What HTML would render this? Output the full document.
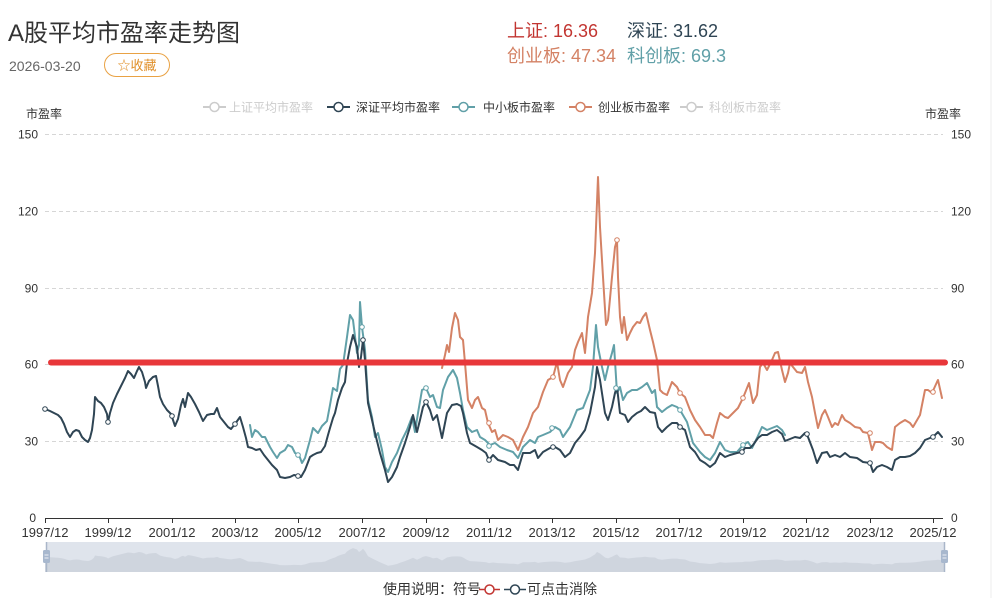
<!DOCTYPE html>
<html>
<head>
<meta charset="utf-8">
<style>
html,body{margin:0;padding:0;background:#fff;}
body{width:998px;height:598px;overflow:hidden;position:relative;font-family:"Liberation Sans","Noto Sans CJK SC",sans-serif;}
svg{position:absolute;left:0;top:0;}
text{font-family:"Liberation Sans","Noto Sans CJK SC",sans-serif;}
</style>
</head>
<body>
<svg width="998" height="598" viewBox="0 0 998 598" xmlns="http://www.w3.org/2000/svg">
  <!-- right faint border -->
  <line x1="991" y1="0" x2="991" y2="598" stroke="#ececec" stroke-width="1"/>

  <!-- Header -->
  <text x="8" y="41" font-size="24" fill="#333">A股平均市盈率走势图</text>
  <text x="9" y="71" font-size="14" fill="#666">2026-03-20</text>
  <rect x="104.5" y="53.5" width="65" height="23" rx="11.5" ry="11.5" fill="#fff" stroke="#e9a244" stroke-width="1"/>
  <text x="137" y="70" font-size="13" fill="#e0902a" text-anchor="middle">☆收藏</text>

  <text x="507" y="37" font-size="18" fill="#c23531">上证: 16.36</text>
  <text x="627" y="37" font-size="18" fill="#2f4554">深证: 31.62</text>
  <text x="507" y="62" font-size="18" fill="#d48265">创业板: 47.34</text>
  <text x="627" y="62" font-size="18" fill="#61a0a8">科创板: 69.3</text>

  <!-- Legend -->
  <g font-size="12">
    <line x1="203" y1="107" x2="226" y2="107" stroke="#ccc" stroke-width="2"/>
    <circle cx="214.5" cy="107" r="4.5" fill="#fff" stroke="#ccc" stroke-width="1.5"/>
    <text x="229" y="111.5" fill="#ccc">上证平均市盈率</text>

    <line x1="327" y1="107" x2="350" y2="107" stroke="#2f4554" stroke-width="2"/>
    <circle cx="338.5" cy="107" r="4.5" fill="#fff" stroke="#2f4554" stroke-width="1.5"/>
    <text x="356" y="111.5" fill="#333">深证平均市盈率</text>

    <line x1="452" y1="107" x2="475" y2="107" stroke="#61a0a8" stroke-width="2"/>
    <circle cx="463.5" cy="107" r="4.5" fill="#fff" stroke="#61a0a8" stroke-width="1.5"/>
    <text x="483" y="111.5" fill="#333">中小板市盈率</text>

    <line x1="569" y1="107" x2="592" y2="107" stroke="#d48265" stroke-width="2"/>
    <circle cx="580.5" cy="107" r="4.5" fill="#fff" stroke="#d48265" stroke-width="1.5"/>
    <text x="598" y="111.5" fill="#333">创业板市盈率</text>

    <line x1="680" y1="107" x2="703" y2="107" stroke="#ccc" stroke-width="2"/>
    <circle cx="691.5" cy="107" r="4.5" fill="#fff" stroke="#ccc" stroke-width="1.5"/>
    <text x="709" y="111.5" fill="#ccc">科创板市盈率</text>
  </g>

  <!-- axis names -->
  <text x="26" y="118" font-size="12" fill="#333">市盈率</text>
  <text x="925" y="118" font-size="12" fill="#333">市盈率</text>

  <!-- grid -->
  <g stroke="#d6d6d6" stroke-width="1" stroke-dasharray="4,3">
    <line x1="45" y1="134.5" x2="943" y2="134.5"/>
    <line x1="45" y1="211.5" x2="943" y2="211.5"/>
    <line x1="45" y1="288.5" x2="943" y2="288.5"/>
    <line x1="45" y1="364.5" x2="943" y2="364.5"/>
    <line x1="45" y1="441.5" x2="943" y2="441.5"/>
  </g>

  <!-- y labels -->
  <g font-size="12" fill="#333">
    <text x="38" y="138.5" text-anchor="end">150</text>
    <text x="38" y="215.5" text-anchor="end">120</text>
    <text x="38" y="292.5" text-anchor="end">90</text>
    <text x="38" y="368.5" text-anchor="end">60</text>
    <text x="38" y="445.5" text-anchor="end">30</text>
    <text x="36" y="522" text-anchor="end">0</text>
    <text x="951" y="138.5">150</text>
    <text x="951" y="215.5">120</text>
    <text x="951" y="292.5">90</text>
    <text x="951" y="368.5">60</text>
    <text x="951" y="445.5">30</text>
    <text x="951" y="522">0</text>
  </g>

  <!-- x axis -->
  <line x1="45" y1="518.5" x2="943" y2="518.5" stroke="#333" stroke-width="1"/>
  <g stroke="#333" stroke-width="1">
    <line x1="45.5" y1="518" x2="45.5" y2="523"/>
    <line x1="108.5" y1="518" x2="108.5" y2="523"/>
    <line x1="172.5" y1="518" x2="172.5" y2="523"/>
    <line x1="235.5" y1="518" x2="235.5" y2="523"/>
    <line x1="298.5" y1="518" x2="298.5" y2="523"/>
    <line x1="362.5" y1="518" x2="362.5" y2="523"/>
    <line x1="426.5" y1="518" x2="426.5" y2="523"/>
    <line x1="489.5" y1="518" x2="489.5" y2="523"/>
    <line x1="552.5" y1="518" x2="552.5" y2="523"/>
    <line x1="616.5" y1="518" x2="616.5" y2="523"/>
    <line x1="679.5" y1="518" x2="679.5" y2="523"/>
    <line x1="743.5" y1="518" x2="743.5" y2="523"/>
    <line x1="806.5" y1="518" x2="806.5" y2="523"/>
    <line x1="870.5" y1="518" x2="870.5" y2="523"/>
    <line x1="933.5" y1="518" x2="933.5" y2="523"/>
  </g>
  <g font-size="13" fill="#333" text-anchor="middle">
    <text x="45" y="537">1997/12</text>
    <text x="108" y="537">1999/12</text>
    <text x="172" y="537">2001/12</text>
    <text x="235" y="537">2003/12</text>
    <text x="298" y="537">2005/12</text>
    <text x="362" y="537">2007/12</text>
    <text x="426" y="537">2009/12</text>
    <text x="489" y="537">2011/12</text>
    <text x="552" y="537">2013/12</text>
    <text x="616" y="537">2015/12</text>
    <text x="679" y="537">2017/12</text>
    <text x="743" y="537">2019/12</text>
    <text x="806" y="537">2021/12</text>
    <text x="870" y="537">2023/12</text>
    <text x="933" y="537">2025/12</text>
  </g>

  <!-- series -->
  <g fill="none" stroke-width="2" stroke-linejoin="round" stroke-linecap="round">
    <polyline stroke="#61a0a8" points="250,425 252,437 255,430 258,432 262,437 265,437 270,447 273,452 277,458 280,453 285,450 288,445 292,447 295,453 299,455 302,463 305,458 310,440 313,428 318,433 322,426 327,421 330,405 333,388 337,391 340,369 343,365 347,337 350,315 353,320 357,353 359,345 360,302 362,327 365,350 368,400 372,417 375,437 378,433 382,450 385,467 388,472 392,462 397,453 402,440 407,430 412,417 415,432 418,413 422,390 426,388 430,397 433,395 437,407 440,408 443,390 448,377 453,370 457,378 460,393 463,410 467,427 472,432 477,430 480,437 485,440 490,445 495,443 500,447 507,450 513,452 518,458 523,447 530,440 535,443 538,437 543,435 550,432 555,427 560,430 563,437 570,427 577,410 583,408 590,390 593,367 596,325 598,347 602,367 605,380 608,367 612,353 614,345 617,393 620,387 623,400 627,393 632,390 637,390 642,387 647,383 652,393 655,390 657,407 662,412 667,408 672,405 677,407 680,410 687,422 693,443 700,452 705,457 710,460 715,453 720,442 725,450 730,452 737,452 743,445 748,442 752,448 757,438 762,427 767,430 772,428 777,426 782,430 785,435"/>
    <polyline stroke="#d48265" points="442,368 445,355 447,345 449,352 452,328 455,313 458,320 460,337 463,340 465,363 468,400 472,408 475,400 478,397 482,408 485,410 488,423 492,432 495,430 498,440 503,435 508,437 513,440 518,450 523,437 528,427 533,413 538,407 543,392 548,380 553,377 557,362 560,380 563,387 568,373 572,367 575,350 578,342 582,333 585,353 588,317 592,293 595,253 598,177 600,227 603,277 606,325 608,320 612,277 615,247 617,240 618,277 620,317 622,333 624,317 627,340 630,333 633,327 637,322 640,323 643,317 646,313 650,330 653,342 657,360 660,390 663,393 667,395 672,382 677,387 680,393 685,397 690,410 695,420 700,427 705,435 710,435 713,438 717,423 720,413 725,417 728,418 733,413 738,408 743,398 747,388 749,383 753,403 757,395 760,367 763,363 767,370 772,360 775,353 778,352 782,370 785,382 788,373 790,363 793,367 797,372 802,373 805,367 808,382 812,397 815,413 818,428 822,415 825,410 828,417 832,427 835,423 838,425 842,415 845,420 850,423 855,427 860,428 863,432 868,433 872,450 875,442 880,442 883,443 887,447 892,450 895,427 900,423 905,420 910,423 913,427 920,415 925,390 928,390 932,393 937,382 938,380 942,398"/>
    <polyline id="dark" stroke="#2f4554" points="45,409 50,411 54,413 58,415 61,418 64,424 67,432 70,437 73,432 76,430 79,431 82,437 85,440 88,442 90,438 92,430 94,414 95,397 98,401 101,403 104,407 107,414 108,422 110,413 113,403 117,394 121,386 125,378 128,371 131,374 134,378 137,371 139,367 142,372 145,382 146,388 149,381 153,377 156,376 158,386 160,397 163,404 167,410 171,414 173,420 175,426 178,419 181,405 183,399 185,407 188,393 191,397 195,404 199,412 203,421 207,415 211,414 214,414 217,408 220,417 224,422 228,427 231,429 235,424 240,417 243,427 246,438 248,447 252,448 256,450 260,449 264,455 268,460 272,465 277,470 280,477 285,478 290,477 294,475 298,476 301,477 305,470 310,457 313,455 317,453 321,452 325,446 328,435 330,428 333,418 335,413 338,400 342,388 345,382 347,363 350,347 353,335 357,347 359,367 361,357 363,340 365,360 368,403 372,420 375,433 380,453 385,470 388,482 392,477 397,467 400,457 405,443 410,427 413,415 417,432 420,420 423,407 426,402 430,410 433,420 437,415 442,438 447,413 452,405 457,404 461,406 463,413 467,433 470,443 477,447 482,450 486,453 489,460 493,455 498,460 505,462 510,465 514,465 518,470 523,453 530,453 535,450 538,458 543,452 550,448 555,447 560,450 565,457 570,453 575,443 580,437 585,430 590,413 595,387 597,367 600,380 605,413 608,420 612,407 615,393 617,387 620,413 625,415 628,422 632,417 637,413 641,411 645,407 650,412 655,413 658,427 662,432 667,427 672,423 677,423 680,427 685,430 690,447 695,452 700,460 705,463 710,467 715,463 720,453 725,457 730,455 737,453 742,452 745,448 750,448 753,445 758,438 762,435 767,435 772,432 777,430 782,434 785,441 790,439 795,437 800,438 805,433 808,437 813,450 817,463 822,453 827,452 830,457 835,455 840,457 845,453 850,457 857,458 863,462 870,463 873,472 877,467 882,465 887,467 892,470 895,460 900,457 905,457 910,456 915,453 920,448 925,440 930,438 935,435 938,432 942,437"/>
  </g>

  <!-- markers -->
  <g fill="#fff" stroke-width="1">
    <g stroke="#2f4554">
      <circle cx="45" cy="409" r="2.3"/><circle cx="108" cy="422" r="2.3"/><circle cx="172" cy="416" r="2.3"/>
      <circle cx="235" cy="424" r="2.3"/><circle cx="298" cy="476" r="2.3"/><circle cx="363" cy="340" r="2.3"/>
      <circle cx="426" cy="402" r="2.3"/><circle cx="489" cy="460" r="2.3"/><circle cx="553" cy="447" r="2.3"/>
      <circle cx="680" cy="427" r="2.3"/><circle cx="742" cy="452" r="2.3"/><circle cx="807" cy="434" r="2.3"/>
      <circle cx="870" cy="463" r="2.3"/><circle cx="933" cy="437" r="2.3"/>
    </g>
    <g stroke="#61a0a8">
      <circle cx="362" cy="327" r="2.3"/><circle cx="426" cy="388" r="2.3"/><circle cx="489" cy="446" r="2.3"/>
      <circle cx="552" cy="428" r="2.3"/><circle cx="616" cy="388" r="2.3"/><circle cx="680" cy="410" r="2.3"/>
      <circle cx="743" cy="445" r="2.3"/><circle cx="298" cy="455" r="2.3"/>
    </g>
    <g stroke="#d48265">
      <circle cx="489" cy="423" r="2.3"/><circle cx="553" cy="377" r="2.3"/><circle cx="617" cy="240" r="2.3"/>
      <circle cx="680" cy="393" r="2.3"/><circle cx="743" cy="398" r="2.3"/><circle cx="870" cy="433" r="2.3"/>
      <circle cx="933" cy="392" r="2.3"/>
    </g>
  </g>

  <!-- red reference line -->
  <line x1="51" y1="362.5" x2="945" y2="362.5" stroke="#e8373a" stroke-width="6" stroke-linecap="round"/>

  <!-- dataZoom slider -->
  <rect x="46" y="542" width="899" height="30" fill="#dfe4ec"/>
  <g transform="matrix(1 0 0 0.12 0 507.92)">
    <polygon fill="#cdd3dd" fill-opacity="0.9" stroke="none" points="45,534 45,409 50,411 54,413 58,415 61,418 64,424 67,432 70,437 73,432 76,430 79,431 82,437 85,440 88,442 90,438 92,430 94,414 95,397 98,401 101,403 104,407 107,414 108,422 110,413 113,403 117,394 121,386 125,378 128,371 131,374 134,378 137,371 139,367 142,372 145,382 146,388 149,381 153,377 156,376 158,386 160,397 163,404 167,410 171,414 173,420 175,426 178,419 181,405 183,399 185,407 188,393 191,397 195,404 199,412 203,421 207,415 211,414 214,414 217,408 220,417 224,422 228,427 231,429 235,424 240,417 243,427 246,438 248,447 252,448 256,450 260,449 264,455 268,460 272,465 277,470 280,477 285,478 290,477 294,475 298,476 301,477 305,470 310,457 313,455 317,453 321,452 325,446 328,435 330,428 333,418 335,413 338,400 342,388 345,382 347,363 350,347 353,335 357,347 359,367 361,357 363,340 365,360 368,403 372,420 375,433 380,453 385,470 388,482 392,477 397,467 400,457 405,443 410,427 413,415 417,432 420,420 423,407 426,402 430,410 433,420 437,415 442,438 447,413 452,405 457,404 461,406 463,413 467,433 470,443 477,447 482,450 486,453 489,460 493,455 498,460 505,462 510,465 514,465 518,470 523,453 530,453 535,450 538,458 543,452 550,448 555,447 560,450 565,457 570,453 575,443 580,437 585,430 590,413 595,387 597,367 600,380 605,413 608,420 612,407 615,393 617,387 620,413 625,415 628,422 632,417 637,413 641,411 645,407 650,412 655,413 658,427 662,432 667,427 672,423 677,423 680,427 685,430 690,447 695,452 700,460 705,463 710,467 715,463 720,453 725,457 730,455 737,453 742,452 745,448 750,448 753,445 758,438 762,435 767,435 772,432 777,430 782,434 785,441 790,439 795,437 800,438 805,433 808,437 813,450 817,463 822,453 827,452 830,457 835,455 840,457 845,453 850,457 857,458 863,462 870,463 873,472 877,467 882,465 887,467 892,470 895,460 900,457 905,457 910,456 915,453 920,448 925,440 930,438 935,435 938,432 942,437 945,437 945,534"/>
  </g>
  <line x1="46.5" y1="542" x2="46.5" y2="572" stroke="#a9b6c9" stroke-width="1.5"/>
  <line x1="944.5" y1="542" x2="944.5" y2="572" stroke="#a9b6c9" stroke-width="1.5"/>
  <rect x="43" y="550" width="7" height="13" rx="1.5" fill="#a8b8ce"/>
  <line x1="44.5" y1="555" x2="48.5" y2="555" stroke="#fff" stroke-width="0.8"/>
  <line x1="44.5" y1="558" x2="48.5" y2="558" stroke="#fff" stroke-width="0.8"/>
  <rect x="941" y="550" width="7" height="13" rx="1.5" fill="#a8b8ce"/>
  <line x1="942.5" y1="555" x2="946.5" y2="555" stroke="#fff" stroke-width="0.8"/>
  <line x1="942.5" y1="558" x2="946.5" y2="558" stroke="#fff" stroke-width="0.8"/>

  <!-- usage note -->
  <text x="383" y="594" font-size="14" fill="#333">使用说明：符号</text>
  <line x1="479" y1="589.5" x2="500" y2="589.5" stroke="#c23531" stroke-width="1.5"/>
  <circle cx="489.5" cy="589.5" r="4.5" fill="#fff" stroke="#c23531" stroke-width="1.5"/>
  <line x1="504" y1="589.5" x2="526" y2="589.5" stroke="#2f4554" stroke-width="1.5"/>
  <circle cx="515" cy="589.5" r="4.5" fill="#fff" stroke="#2f4554" stroke-width="1.5"/>
  <text x="527" y="594" font-size="14" fill="#333">可点击消除</text>
</svg>
</body>
</html>
